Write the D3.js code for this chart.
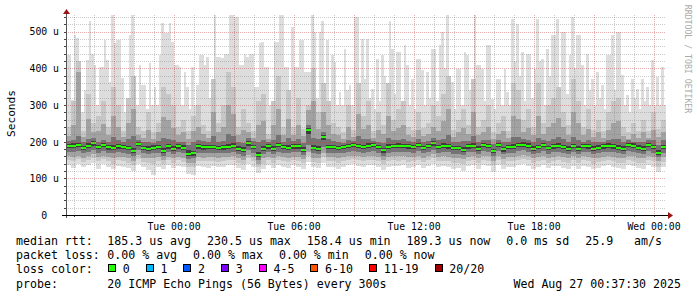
<!DOCTYPE html>
<html><head><meta charset="utf-8">
<script src="https://cdn.jsdelivr.net/npm/d3@7"></script>
<style>
html,body{margin:0;padding:0;background:#fff;}
svg{display:block;}
text{font-family:"DejaVu Sans Mono",monospace;fill:#000;}
</style></head><body>
<svg id="c" width="697" height="297"></svg>
<script>
// ---- data (microseconds) over Mon 18:37:30 -> Wed 00:37:30 ----
// median and smoke quantiles: one value per 15 minutes
const median = [188,188,190,183,189,196,185,190,184,183,187,185,183,175,194,183,181,183,185,175,
 187,181,187,183,167,168,187,184,185,185,183,184,186,189,181,177,195,186,164,181,
 187,181,190,185,183,187,187,178,232,183,181,212,186,185,183,185,188,190,188,185,
 189,190,185,176,186,188,188,188,187,186,190,183,188,196,185,188,187,182,182,178,
 187,188,181,190,188,174,190,179,186,186,190,192,189,180,185,190,182,187,188,185,
 181,188,181,188,187,181,183,187,188,187,183,181,190,188,183,181,190,186,170,185];
// slowest ping: one value per 7.5 minutes
const pingMax = [436,436,313,490,482,390,280,340,422,530,440,408,300,403,403,477,422,362,545,468,
 477,477,372,280,313,490,545,368,300,408,354,354,290,414,300,349,300,436,523,496,
 496,523,472,408,408,403,300,390,349,290,403,300,354,436,436,408,431,320,320,545,
 431,431,427,440,440,545,545,540,540,408,408,440,431,440,440,349,349,468,472,403,
 403,300,300,472,472,545,545,403,403,300,512,403,403,477,477,390,390,390,545,498,
 320,498,530,330,476,300,436,417,300,335,300,452,340,354,300,540,540,330,480,371,
 480,320,344,290,426,310,435,380,300,530,453,330,444,444,310,462,408,300,371,290,
 426,426,394,300,390,320,453,453,310,463,498,400,545,330,362,290,399,399,300,444,
 435,340,300,545,408,408,399,310,463,463,317,290,371,371,300,399,335,300,535,420,
 521,380,444,310,440,440,320,399,535,420,426,300,453,380,490,490,535,330,498,498,
 330,435,540,400,490,490,408,300,440,340,371,300,390,320,354,290,435,435,490,340,
 498,498,381,300,327,280,371,320,344,290,371,310,349,300,422,300,376,300,403,300];
const ping19 = [240,310,420,230,330,250,270,310,240,350,300,228,320,380,240,228,280,225,250,350,
 330,300,240,260,228,270,300,245,230,370,250,300,390,350,240,290,250,228,310,330,
 222,310,380,240,340,240,320,235,300,400,280,360,310,250,240,225,300,232,360,270,
 310,230,280,245,360,260,290,310,240,232,280,238,250,300,270,330,380,232,260,290,
 245,370,240,260,300,225,250,270,230,360,340,260,290,240,360,250,300,320,350,280,
 245,370,310,240,290,232,260,228,280,310,320,240,225,250,230,260,228,280,235,260];
const ping17 = [215,245,390,212,262,225,228,248,218,270,240,212,250,290,218,210,232,208,225,268,
 258,238,218,225,208,230,240,222,210,280,225,240,300,275,218,232,225,210,245,255,
 206,245,290,218,262,218,245,214,285,310,235,280,245,222,218,208,240,212,275,235,
 245,210,232,220,270,228,238,245,218,212,232,215,222,240,230,255,290,212,226,238,
 220,280,218,225,240,206,220,228,210,270,262,225,238,218,270,222,240,250,265,240,
 218,280,250,218,235,212,225,210,232,250,255,215,208,220,210,225,210,232,212,226];
const ping14 = [202,205,215,198,208,210,200,205,200,212,205,198,206,215,205,198,200,196,203,210,
 208,204,200,198,190,200,204,202,198,215,200,203,220,215,200,196,210,202,200,205,
 200,204,218,200,210,202,206,196,245,210,206,225,206,202,200,196,205,202,215,206,
 207,202,200,195,210,205,204,206,202,200,206,198,202,210,204,208,218,198,200,202,
 202,215,200,204,205,194,205,198,200,212,212,206,205,198,210,204,202,206,212,208,
 200,212,205,200,205,198,200,198,205,206,208,200,204,200,198,200,205,205,192,204];
const ping12 = [194,195,197,189,196,202,191,197,190,190,193,192,189,182,200,189,188,190,191,183,
 194,187,193,190,176,175,193,191,191,192,189,191,193,196,187,184,201,192,172,187,
 193,188,197,191,190,193,194,185,238,190,188,218,192,191,189,192,194,197,194,191,
 196,196,191,183,193,194,195,194,193,192,197,189,194,202,191,195,193,189,188,185,
 193,195,187,196,194,181,197,186,192,193,196,198,195,187,191,197,188,193,195,191,
 188,194,188,194,193,188,190,193,195,193,190,187,196,195,190,188,196,192,178,191];
const ping9 = [182,183,184,177,183,189,179,184,178,177,181,179,177,168,187,177,175,177,179,169,
 181,175,181,177,160,161,181,178,179,179,177,178,180,183,175,171,188,180,157,175,
 181,175,184,179,177,181,181,172,222,177,175,204,180,179,177,179,182,184,182,179,
 183,184,179,170,180,182,182,182,181,180,184,177,182,189,179,182,181,176,176,172,
 181,182,175,184,182,168,184,173,180,180,184,186,183,174,179,184,176,181,182,179,
 175,182,175,182,181,175,177,181,182,181,177,175,184,182,177,175,184,180,163,179];
const ping7 = [172,172,174,168,172,178,170,174,169,168,171,170,167,160,176,168,166,168,170,161,
 171,166,171,168,153,154,170,168,169,170,168,169,170,172,166,162,177,170,150,166,
 171,166,173,169,168,171,171,164,190,168,166,185,170,169,168,169,172,174,172,170,
 173,174,169,162,170,172,172,172,171,170,174,168,172,178,169,172,171,167,167,164,
 171,172,166,174,172,160,174,165,170,170,174,176,173,166,169,174,167,171,172,169,
 166,172,166,172,171,166,168,171,172,171,168,166,174,172,168,166,174,170,157,169];
const ping4 = [160,158,162,156,160,165,158,161,157,156,159,158,155,148,163,156,154,156,158,150,
 159,154,159,156,142,143,158,156,157,158,156,157,158,160,154,150,164,158,140,154,
 159,154,161,157,156,159,159,152,172,156,154,170,158,157,156,157,160,162,160,158,
 161,162,157,150,158,160,160,160,159,158,162,156,160,165,157,160,159,155,155,152,
 159,160,154,162,160,148,162,153,158,158,162,163,161,154,157,162,155,159,160,157,
 154,160,154,160,159,154,156,159,160,159,156,154,162,160,156,154,162,158,146,157];
const ping2 = [150,146,152,144,150,155,147,152,146,140,149,147,143,136,152,145,142,138,147,140,
 150,143,149,145,130,132,148,146,147,148,144,146,149,150,143,138,154,147,130,140,
 150,143,151,146,144,150,148,141,160,145,142,158,147,146,141,147,150,152,149,146,
 150,151,146,138,147,149,148,150,145,146,151,144,149,154,146,148,147,142,143,139,
 148,150,142,151,148,135,150,140,147,146,151,152,149,142,146,151,143,148,149,145,
 142,149,141,149,147,140,144,148,150,146,143,141,151,148,143,141,150,146,132,145];
const pingMin = [135,128,138,130,136,142,126,138,132,125,134,130,128,120,138,130,122,110,132,126,
 136,128,134,130,112,110,133,130,128,134,130,132,135,136,128,122,140,132,115,124,
 136,128,137,131,128,136,132,126,145,130,127,142,132,131,124,132,136,138,134,130,
 136,137,131,122,132,134,133,136,128,131,137,129,134,140,131,133,132,126,128,120,
 133,136,126,137,133,118,136,124,132,130,137,138,134,126,131,137,127,133,134,129,
 126,134,124,134,132,124,128,133,136,130,127,124,137,133,127,125,136,131,118,130];

const yTicks = [0,100,200,300,400,500];
const yTickLabels = ["0\u00a0\u00a0","100 u","200 u","300 u","400 u","500 u"];
const xTickLabelFormat = "%a %H:%M";
const rttLabel = "median rtt:";
const rttStats = ["185.3 us avg","230.5 us max","158.4 us min","189.3 us now","0.0 ms sd","25.9\u00a0\u00a0\u00a0am/s"];
const lossLabel = "packet loss:";
const lossStats = ["0.00 % avg","0.00 % max","0.00 % min","0.00 % now"];
const colorLabel = "loss color:";
const lossNames = ["0","1","2","3","4-5","6-10","11-19","20/20"];
const lossColors = ["#26ff00","#00b8ff","#0059ff","#7e00ff","#ff00ff","#ff5500","#ff0000","#a10000"];
const probeLabel = "probe:";
const probeText = "20 ICMP Echo Pings (56 Bytes) every 300s";
const stampText = "Wed Aug 27 00:37:30 2025";
const yTitle = "Seconds";
const watermark = "RRDTOOL / TOBI OETIKER";

// ---- scales ----
const tStart = new Date(2025,7,25,18,37,30);
const tEnd = new Date(2025,7,27,0,37,30);
const L = 66, R = 666, T = 15, B = 215;
const x = d3.scaleTime().domain([tStart, tEnd]).range([L, R]);
const y = d3.scaleLinear().domain([0, 545]).range([B, T]);
const timeAt = (arr, i) => new Date(tStart.getTime() + i*(tEnd - tStart)/arr.length);

const svg = d3.select("#c");
svg.append("rect").attr("width",697).attr("height",297).attr("fill","#fff");

// ---- smoke ----
const smoke = svg.append("g").attr("shape-rendering","crispEdges");
const stepArea = d3.area().curve(d3.curveStepAfter).x(d=>x(d.t)).y0(d=>y(d.lo)).y1(d=>y(d.hi));
function seriesPts(arr) {
  const p = arr.map((v,i)=>({t: timeAt(arr,i), v}));
  p.push({t: tEnd, v: arr[arr.length-1]});
  return p;
}
function band(lo, hi, color) {
  const lp = seriesPts(lo), hp = seriesPts(hi);
  const ts = Array.from(new Set([...lp, ...hp].map(p=>+p.t))).sort((a,b)=>a-b);
  const at = (pts, t) => { let v = pts[0].v; for (const p of pts) { if (+p.t <= t) v = p.v; else break; } return v; };
  const data = ts.map(t => ({t: new Date(t), lo: at(lp,t), hi: at(hp,t)}));
  smoke.append("path").datum(data).attr("d", stepArea).attr("fill", color);
}
band(pingMin, pingMax, "#dddddd");
band(ping2, ping19, "#c6c6c6");
band(ping4, ping17, "#a2a2a2");
band(ping7, ping14, "#747474");
band(ping9, ping12, "#3c3c3c");

// median blocks
smoke.append("path").datum(seriesPts(median))
  .attr("d", d3.area().curve(d3.curveStepAfter)
    .x(d=>x(d.t)).y0(d=>Math.round(y(d.v))+1).y1(d=>Math.round(y(d.v))-1))
  .attr("fill", lossColors[0]);

// ---- grid (drawn over the graph, like rrdtool) ----
const grid = svg.append("g").attr("shape-rendering","crispEdges");
const minorY = d3.range(20, 545, 20).filter(v => v % 100 !== 0);
const majorY = d3.range(100, 545, 100);
const hours = d3.timeHour.range(tStart, tEnd);
const minorX = hours.filter(h => h.getHours() % 3 !== 0);
const majorX = hours.filter(h => h.getHours() % 3 === 0);
const minorCol = "rgba(120,120,120,0.38)", majorCol = "rgba(190,60,60,0.42)";
const hl = (sel, data, col) => sel.selectAll(null).data(data).join("line")
  .attr("x1",L).attr("x2",R).attr("y1",d=>Math.round(y(d))+0.5).attr("y2",d=>Math.round(y(d))+0.5)
  .attr("stroke",col).attr("stroke-dasharray","1,1");
const vl = (sel, data, col) => sel.selectAll(null).data(data).join("line")
  .attr("x1",d=>Math.round(x(d))+0.5).attr("x2",d=>Math.round(x(d))+0.5).attr("y1",T).attr("y2",B)
  .attr("stroke",col).attr("stroke-dasharray","1,1");
hl(grid, minorY, minorCol); vl(grid, minorX, minorCol);
hl(grid, majorY, majorCol); vl(grid, majorX, majorCol);

// ---- axes ----
const ax = svg.append("g").attr("shape-rendering","crispEdges");
const xAxis = d3.axisBottom(x)
  .tickValues(hours.filter(h => h.getHours() % 6 === 0))
  .tickFormat(d3.timeFormat(xTickLabelFormat))
  .tickSize(0).tickPadding(8);
const gx = svg.append("g").attr("transform",`translate(0,${B})`).call(xAxis);
gx.select(".domain").remove();
gx.selectAll("text").attr("font-family","DejaVu Sans Mono").attr("font-size","9.8px").attr("fill","#000");

const yAxis = d3.axisLeft(y).tickValues(yTicks)
  .tickFormat((d,i)=>yTickLabels[i]).tickSize(0).tickPadding(7);
const gy = svg.append("g").attr("transform",`translate(${L},0)`).call(yAxis);
gy.select(".domain").remove();
gy.selectAll("text").attr("font-family","DejaVu Sans Mono").attr("font-size","9.8px").attr("fill","#000").attr("dy","0.35em");

ax.selectAll(null).data(hours).join("line")
  .attr("x1",d=>Math.round(x(d))+0.5).attr("x2",d=>Math.round(x(d))+0.5)
  .attr("y1",B).attr("y2",B+2).attr("stroke","#444");
ax.selectAll(null).data(d3.range(0,545,20)).join("line")
  .attr("x1",L-2).attr("x2",L).attr("y1",d=>Math.round(y(d))+0.5).attr("y2",d=>Math.round(y(d))+0.5)
  .attr("stroke","#444");
ax.append("line").attr("x1",L+0.5).attr("x2",L+0.5).attr("y1",B+3).attr("y2",11).attr("stroke","#555");
ax.append("line").attr("x1",62).attr("x2",669).attr("y1",B+0.5).attr("y2",B+0.5).attr("stroke","#000");
svg.append("path").attr("d",`M${L-3},14 L${L+0.5+3.5},14 L${L+0.5},9 Z`).attr("fill","#9b1414");
svg.append("path").attr("d",`M668,${B-3} L668,${B+4} L673,${B+0.5} Z`).attr("fill","#9b1414");

// ---- titles ----
svg.append("text").attr("transform","translate(15,113.5) rotate(-90)")
  .attr("text-anchor","middle").attr("font-size","11.2px").text(yTitle);
svg.append("text").attr("transform","translate(685,59) rotate(90)")
  .attr("text-anchor","middle").attr("font-size","8.2px").style("fill","#aaaaaa").text(watermark);

// ---- legend ----
const FS = "11.6px", GAP = 16, X0 = 107.3;
function row(yb, label, items) {
  svg.append("text").attr("x",16).attr("y",yb).attr("font-size",FS).text(label);
  let cx = X0;
  items.forEach(s => {
    const t = svg.append("text").attr("x",cx).attr("y",yb).attr("font-size",FS).text(s);
    cx += t.node().getComputedTextLength() + GAP;
  });
}
row(245, rttLabel, rttStats);
row(259.3, lossLabel, lossStats);
svg.append("text").attr("x",16).attr("y",273.3).attr("font-size",FS).text(colorLabel);
{
  let cx = 108;
  lossNames.forEach((n,i) => {
    svg.append("rect").attr("x",cx+0.5).attr("y",264.5).attr("width",7).attr("height",7)
      .attr("fill",lossColors[i]).attr("stroke","#000").attr("shape-rendering","crispEdges");
    const t = svg.append("text").attr("x",cx+14.7).attr("y",273.3).attr("font-size",FS).text(n);
    cx += 14.7 + t.node().getComputedTextLength() + GAP;
  });
}
svg.append("text").attr("x",16).attr("y",287.5).attr("font-size",FS).text(probeLabel);
svg.append("text").attr("x",X0).attr("y",287.5).attr("font-size",FS).text(probeText);
svg.append("text").attr("x",681).attr("y",287.5).attr("text-anchor","end").attr("font-size",FS).text(stampText);
</script>
</body></html>
